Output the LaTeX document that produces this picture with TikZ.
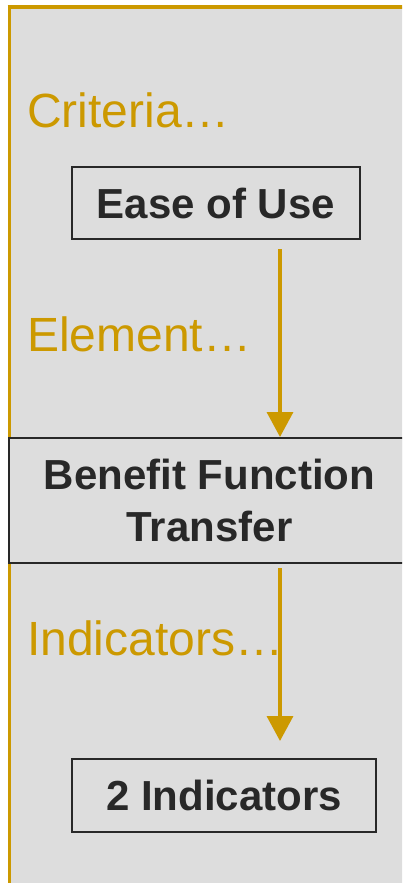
\documentclass[tikz,border=0pt]{standalone}
\usepackage{fontspec}
\setmainfont{Liberation Sans}
\usetikzlibrary{arrows.meta}
\definecolor{gold}{RGB}{204,153,0}
\definecolor{panel}{RGB}{221,221,221}
\definecolor{ink}{RGB}{40,40,40}
\tikzset{
  label text/.style={anchor=base west, inner sep=0pt, text=gold, font=\fontsize{48}{56}\selectfont},
  boxnode/.style={draw=ink, line width=2pt, fill=panel, text=ink, inner sep=0pt,
    font=\fontsize{42}{52}\selectfont\bfseries, align=center},
  flow/.style={draw=gold, line width=3.5pt, -{Triangle[width=26pt,length=25pt]}}
}
\begin{document}
\begin{tikzpicture}[x=1pt,y=-1pt]
\path[use as bounding box, clip] (0,0) rectangle (402,883);
\fill[white] (0,0) rectangle (402,883);
\fill[panel] (9,7) rectangle (410,890);
\draw[gold, line width=4pt] (7.5,7) -- (410,7);
\draw[gold, line width=3pt] (9,7) -- (9,890);
\node[label text] (crit) at (27,127) {Criteria…};
\node[boxnode, minimum width=288pt, minimum height=72pt] (ease) at (216,203) {Ease of Use};
\node[label text] (elem) at (27,351) {Element…};
\node[boxnode, minimum width=401pt, minimum height=125pt] (bft) at (209.5,500.5) {Benefit Function\\Transfer};
\node[label text] (indl) at (27,655) {Indicators…};
\node[boxnode, minimum width=304pt, minimum height=73pt] (ind) at (224,795.5) {2 Indicators};
\coordinate (ax) at (280,0);
\draw[flow] ([yshift=-9pt]ease.south -| ax) -- (bft.north -| ax);
\draw[flow] ([yshift=-4pt]bft.south -| ax) -- ([yshift=17pt]ind.north -| ax);
\end{tikzpicture}
\end{document}
